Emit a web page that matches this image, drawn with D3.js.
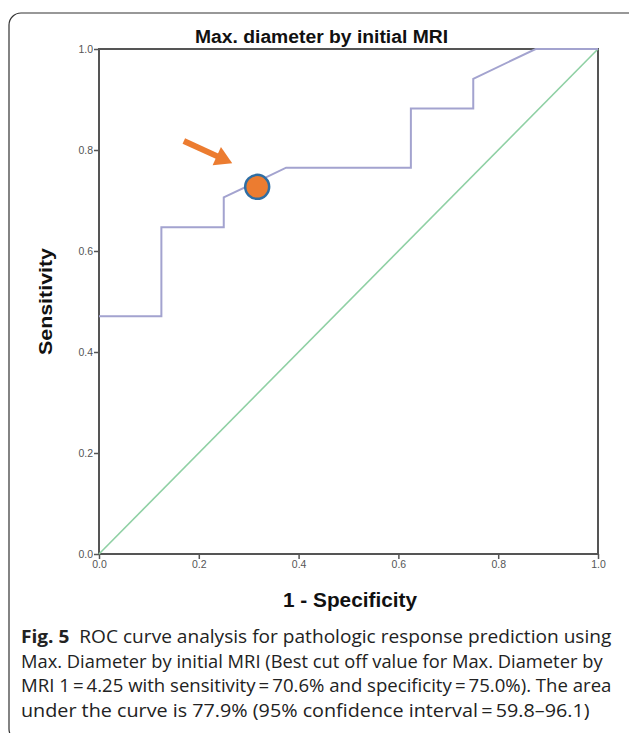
<!DOCTYPE html>
<html>
<head>
<meta charset="utf-8">
<script src="https://cdn.jsdelivr.net/npm/d3@7"></script>
<style>
  html, body { margin: 0; padding: 0; background: #fff; }
  svg { display: block; }
</style>
</head>
<body>
<div id="chart"></div>
<script>
// ROC curve (1 - specificity, sensitivity)
const fpr = [0, 0.125, 0.125, 0.25, 0.25, 0.375, 0.625, 0.625, 0.75, 0.75, 0.875, 1];
const tpr = [0.471, 0.471, 0.647, 0.647, 0.706, 0.765, 0.765, 0.882, 0.882, 0.941, 1, 1];
const refLine = [[0, 0], [1, 1]];
const cutPoint = [0.317, 0.727];
const arrowFrom = [0.17, 0.818];
const arrowTo = [0.267, 0.774];
const ticks = [0, 0.2, 0.4, 0.6, 0.8, 1.0];

const caption = [
  ['Fig. 5', '  ROC curve analysis for pathologic response prediction using'],
  ['', 'Max. Diameter by initial MRI (Best cut off value for Max. Diameter by'],
  ['', 'MRI 1\u2009=\u20094.25 with sensitivity\u2009=\u200970.6% and specificity\u2009=\u200975.0%). The area'],
  ['', 'under the curve is 77.9% (95% confidence interval\u2009=\u200959.8\u201396.1)']
];
const captionRight = [612, 603, 612, 590];

const W = 629, H = 733;
const svg = d3.select('#chart').append('svg').attr('width', W).attr('height', H);

// figure frame
svg.append('rect')
  .attr('x', 9).attr('y', 13).attr('width', 640).attr('height', 728).attr('rx', 12)
  .attr('fill', 'none').attr('stroke', '#333').attr('stroke-width', 1.2);

const x = d3.scaleLinear().domain([0, 1]).range([99, 598]);
const y = d3.scaleLinear().domain([0, 1]).range([554, 49]);

// plot frame
svg.append('rect')
  .attr('x', x(0)).attr('y', y(1)).attr('width', x(1) - x(0)).attr('height', y(0) - y(1))
  .attr('fill', 'none').attr('stroke', '#555').attr('stroke-width', 2);

const fmt = d3.format('.1f');
const xAxis = svg.append('g').attr('transform', `translate(0,${y(0)})`)
  .call(d3.axisBottom(x).tickValues(ticks).tickFormat(fmt).tickSize(5).tickPadding(2));
const yAxis = svg.append('g').attr('transform', `translate(${x(0)},0)`)
  .call(d3.axisLeft(y).tickValues(ticks).tickFormat(fmt).tickSize(5).tickPadding(1));
[xAxis, yAxis].forEach(g => {
  g.select('.domain').remove();
  g.selectAll('line').attr('stroke', '#555').attr('stroke-width', 1.5);
  g.selectAll('text').attr('fill', '#555').attr('font-family', 'Liberation Sans, Arial, sans-serif').attr('font-size', 10.5);
});

// reference diagonal
svg.append('path')
  .datum(refLine)
  .attr('d', d3.line().x(d => x(d[0])).y(d => y(d[1])))
  .attr('fill', 'none').attr('stroke', '#8fd0a4').attr('stroke-width', 1.6);

// ROC curve
svg.append('path')
  .datum(fpr.map((f, i) => [f, tpr[i]]))
  .attr('d', d3.line().x(d => x(d[0])).y(d => y(d[1])))
  .attr('fill', 'none').attr('stroke', '#a3a3cf').attr('stroke-width', 2);

// cut-off marker
svg.append('circle')
  .attr('cx', x(cutPoint[0])).attr('cy', y(cutPoint[1])).attr('r', 12)
  .attr('fill', '#ec7c30').attr('stroke', '#2f6ea3').attr('stroke-width', 2.5);

// arrow
const ax0 = x(arrowFrom[0]), ay0 = y(arrowFrom[1]), ax1 = x(arrowTo[0]), ay1 = y(arrowTo[1]);
const ang = Math.atan2(ay1 - ay0, ax1 - ax0);
const headLen = 17, headW = 10;
const bx = ax1 - headLen * Math.cos(ang), by = ay1 - headLen * Math.sin(ang);
svg.append('line')
  .attr('x1', ax0).attr('y1', ay0).attr('x2', bx + 2 * Math.cos(ang)).attr('y2', by + 2 * Math.sin(ang))
  .attr('stroke', '#ec7c30').attr('stroke-width', 6);
svg.append('path')
  .attr('d', `M${ax1},${ay1}L${bx - headW * Math.sin(ang)},${by + headW * Math.cos(ang)}L${bx + headW * Math.sin(ang)},${by - headW * Math.cos(ang)}Z`)
  .attr('fill', '#ec7c30');

// titles
const bold = 'Liberation Sans, Arial, sans-serif';
svg.append('text')
  .attr('x', 195).attr('y', 43)
  .attr('font-family', bold).attr('font-weight', 'bold').attr('font-size', 17.5)
  .attr('textLength', 253).attr('lengthAdjust', 'spacingAndGlyphs')
  .attr('fill', '#111').text('Max. diameter by initial MRI');
svg.append('text')
  .attr('x', 283).attr('y', 607)
  .attr('font-family', bold).attr('font-weight', 'bold').attr('font-size', 19.5)
  .attr('textLength', 134).attr('lengthAdjust', 'spacingAndGlyphs')
  .attr('fill', '#111').text('1 - Specificity');
svg.append('text')
  .attr('transform', 'translate(52,355) rotate(-90)')
  .attr('font-family', bold).attr('font-weight', 'bold').attr('font-size', 19)
  .attr('textLength', 107).attr('lengthAdjust', 'spacingAndGlyphs')
  .attr('fill', '#111').text('Sensitivity');

// caption
caption.forEach((line, i) => {
  const t = svg.append('text')
    .attr('x', 21).attr('y', 643 + i * 24.7)
    .attr('font-family', 'Open Sans, sans-serif').attr('font-size', 18).attr('fill', '#222');
  if (line[0]) t.append('tspan').attr('font-weight', 'bold').text(line[0]);
  t.append('tspan').attr('xml:space', 'preserve').style('white-space', 'pre').text(line[1]);
  const w = t.node().getComputedTextLength();
  const s = (captionRight[i] - 21) / w;
  t.attr('transform', `translate(21,0) scale(${s},1) translate(-21,0)`);
});
</script>
</body>
</html>
